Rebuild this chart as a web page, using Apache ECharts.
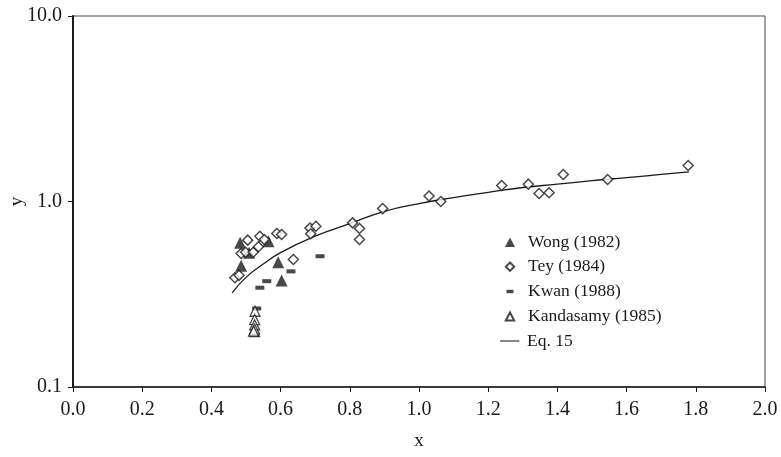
<!DOCTYPE html>
<html>
<head>
<meta charset="utf-8">
<script src="https://cdn.jsdelivr.net/npm/echarts@6/dist/echarts.min.js"></script>
<style>html,body{margin:0;padding:0;background:#fff}#c{width:781px;height:457px}</style>
</head>
<body>
<div id="c"></div>
<script>
var xTicks = ['0.0','0.2','0.4','0.6','0.8','1.0','1.2','1.4','1.6','1.8','2.0'];
var yTicks = ['0.1','1.0','10.0'];
var wong = [[0.483,0.60],[0.565,0.61],[0.509,0.53],[0.486,0.45],[0.593,0.47],[0.603,0.375],[0.525,0.20]];
var tey = [[0.468,0.388],[0.48,0.40],[0.486,0.525],[0.499,0.533],[0.505,0.619],[0.521,0.533],[0.536,0.57],[0.54,0.65],[0.553,0.624],[0.589,0.672],[0.603,0.664],[0.637,0.487],[0.685,0.72],[0.702,0.736],[0.687,0.67],[0.808,0.767],[0.828,0.715],[0.828,0.624],[0.895,0.916],[1.029,1.07],[1.063,1.0],[1.239,1.22],[1.316,1.24],[1.347,1.104],[1.376,1.114],[1.417,1.398],[1.545,1.314],[1.778,1.563]];
var kwan = [[0.531,0.265],[0.54,0.343],[0.56,0.372],[0.63,0.42],[0.714,0.507]];
var kandasamy = [[0.526,0.256],[0.525,0.231],[0.525,0.216],[0.525,0.205],[0.522,0.200]];
var eq15 = [[0.46,0.322],[0.5,0.39],[0.55,0.46],[0.6,0.53],[0.7,0.65],[0.8,0.76],[0.9,0.885],[1.0,0.975],[1.1,1.05],[1.2,1.12],[1.3,1.19],[1.4,1.24],[1.5,1.295],[1.6,1.345],[1.7,1.40],[1.78,1.446]];

var FONT = 'Liberation Serif';
var INK = '#1a1a1a';
var legendText = {fontFamily: FONT, fontSize: 17.5, color: INK, lineHeight: 18};
var chart = echarts.init(document.getElementById('c'), null, {renderer:'canvas'});
chart.setOption({
  animation: false,
  backgroundColor: '#fff',
  grid: {left: 73, right: 16, top: 16, bottom: 70, containLabel: false, outerBoundsMode: 'none',
    show: true, borderColor: '#444', borderWidth: 1, backgroundColor: 'transparent'},
  legend: [{
    orient: 'vertical', left: 500, top: 233, padding: 0, itemWidth: 22, itemHeight: 10, itemGap: 6.75,
    textStyle: legendText,
    data: [
      {name: 'Wong (1982)', icon: 'path://M0,0M22,10M4,10L9,0.5L14,10z'},
      {name: 'Tey (1984)', icon: 'path://M0,0M22,10M9,0.8L13.2,5L9,9.2L4.8,5z'},
      {name: 'Kwan (1988)', icon: 'path://M0,0M22,10M5.5,3.3h7v3.4h-7z'},
      {name: 'Kandasamy (1985)', icon: 'path://M0,0M22,10M4.8,9.2L9,1.2L13.2,9.2z'}
    ]
  }, {
    orient: 'vertical', left: 500, top: 332, padding: 0, itemWidth: 22, itemHeight: 10,
    textStyle: legendText,
    data: [{name: 'Eq. 15', icon: 'path://M0,0M22,10M-3,4.4h22v1.2h-22z'}]
  }],
  xAxis: {
    type: 'value', min: 0, max: 2, interval: 0.2,
    name: 'x', nameLocation: 'middle', nameGap: 45,
    nameTextStyle: {fontFamily: FONT, fontSize: 19, color: INK},
    axisLine: {show: true, lineStyle: {color: INK, width: 1.5}},
    axisTick: {show: true, inside: false, length: 5, lineStyle: {color: INK}},
    axisLabel: {fontFamily: FONT, fontSize: 20, color: INK, margin: 13,
      formatter: function(v){ var i = Math.round(v/0.2); return xTicks[i] !== undefined ? xTicks[i] : v.toFixed(1); }},
    splitLine: {show: false}
  },
  yAxis: {
    type: 'log', logBase: 10, min: 0.1, max: 10,
    name: 'y', nameLocation: 'middle', nameGap: 46, nameMoveOverlap: false,
    nameTextStyle: {fontFamily: FONT, fontSize: 19, color: INK},
    axisLine: {show: true, lineStyle: {color: INK, width: 2}},
    axisTick: {show: true, inside: false, length: 5, lineStyle: {color: INK}},
    minorTick: {show: false},
    axisLabel: {fontFamily: FONT, fontSize: 20, color: INK, margin: 11,
      formatter: function(v){ var i = Math.round(Math.log10(v)) + 1; return yTicks[i] !== undefined ? yTicks[i] : String(v); }},
    splitLine: {show: false}
  },
  series: [
    {name: 'Wong (1982)', type: 'scatter', symbol: 'triangle', symbolSize: 12, data: wong, z: 3,
      itemStyle: {color: INK}},
    {name: 'Tey (1984)', type: 'scatter', symbol: 'diamond', symbolSize: 10, data: tey, z: 4,
      itemStyle: {color: '#fff', borderColor: INK, borderWidth: 1.5}},
    {name: 'Kwan (1988)', type: 'scatter', symbol: 'rect', symbolSize: [9,4], data: kwan, z: 3,
      itemStyle: {color: INK}},
    {name: 'Kandasamy (1985)', type: 'scatter', symbol: 'triangle', symbolSize: 10, data: kandasamy, z: 4,
      itemStyle: {color: '#fff', borderColor: INK, borderWidth: 1.3}},
    {name: 'Eq. 15', type: 'line', smooth: true, showSymbol: false, symbol: 'none', data: eq15, z: 2,
      lineStyle: {color: INK, width: 1.3}, itemStyle: {color: INK}}
  ]
});
</script>
</body>
</html>
